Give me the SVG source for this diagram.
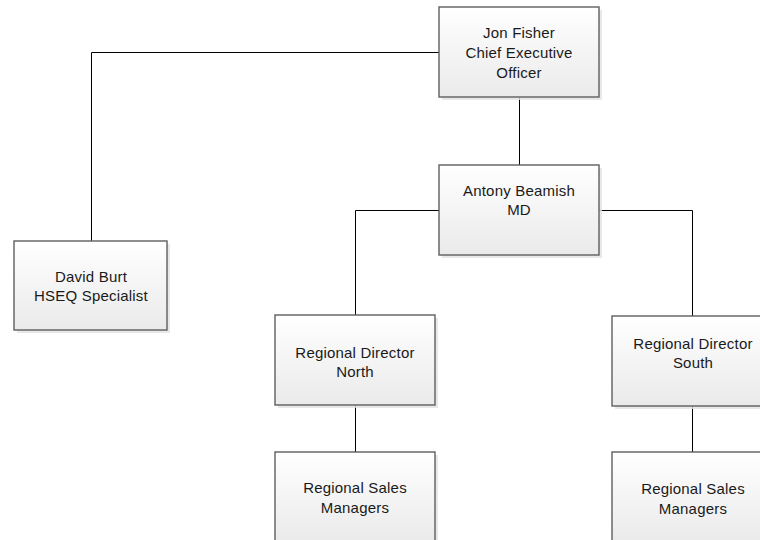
<svg xmlns="http://www.w3.org/2000/svg" width="760" height="540" viewBox="0 0 760 540">
<defs>
<linearGradient id="g" x1="0" y1="0" x2="0" y2="1">
<stop offset="0" stop-color="#ffffff"/>
<stop offset="1" stop-color="#eaeaea"/>
</linearGradient>
<style>
.sh{fill:#e2e2e2;opacity:0.8}
.bx{fill:url(#g);stroke:#5e5e5e;stroke-width:1.4}
.t{font-family:"Liberation Sans",Arial,sans-serif;font-size:15px;letter-spacing:0.2px;fill:#1a1a1a;text-anchor:middle}
.c{fill:none;stroke:#000;stroke-width:1}
</style>
</defs>
<rect width="760" height="540" fill="#fff"/>
<g id="connectors">
<path class="c" d="M439,52.5 H91.5 V241"/>
<path class="c" d="M519.5,97 V165"/>
<path class="c" d="M439,210.5 H355.5 V315"/>
<path class="c" d="M599,210.5 H692.5 V316"/>
<path class="c" d="M355.5,405 V452"/>
<path class="c" d="M692.5,406 V452"/>
</g>
<g id="jon">
<rect class="sh" x="442" y="10" width="160" height="90"/>
<rect class="bx" x="439" y="7" width="160" height="90"/>
<text class="t" x="519" y="38">Jon Fisher</text>
<text class="t" x="519" y="58">Chief Executive</text>
<text class="t" x="519" y="78">Officer</text>
</g>
<g id="david">
<rect class="sh" x="17" y="244" width="153" height="89"/>
<rect class="bx" x="14" y="241" width="153" height="89"/>
<text class="t" x="91" y="282">David Burt</text>
<text class="t" x="91" y="301">HSEQ Specialist</text>
</g>
<g id="antony">
<rect class="sh" x="442" y="168" width="160" height="90"/>
<rect class="bx" x="439" y="165" width="160" height="90"/>
<text class="t" x="519" y="196">Antony Beamish</text>
<text class="t" x="519" y="215">MD</text>
</g>
<g id="rdnorth">
<rect class="sh" x="278" y="318" width="160" height="90"/>
<rect class="bx" x="275" y="315" width="160" height="90"/>
<text class="t" x="355" y="358">Regional Director</text>
<text class="t" x="355" y="377">North</text>
</g>
<g id="rdsouth">
<rect class="sh" x="615" y="319" width="160" height="90"/>
<rect class="bx" x="612" y="316" width="160" height="90"/>
<text class="t" x="693" y="349">Regional Director</text>
<text class="t" x="693" y="368">South</text>
</g>
<g id="rsmnorth">
<rect class="sh" x="278" y="455" width="160" height="90"/>
<rect class="bx" x="275" y="452" width="160" height="90"/>
<text class="t" x="355" y="493">Regional Sales</text>
<text class="t" x="355" y="513">Managers</text>
</g>
<g id="rsmsouth">
<rect class="sh" x="615" y="455" width="160" height="90"/>
<rect class="bx" x="612" y="452" width="160" height="90"/>
<text class="t" x="693" y="494">Regional Sales</text>
<text class="t" x="693" y="514">Managers</text>
</g>
</svg>
